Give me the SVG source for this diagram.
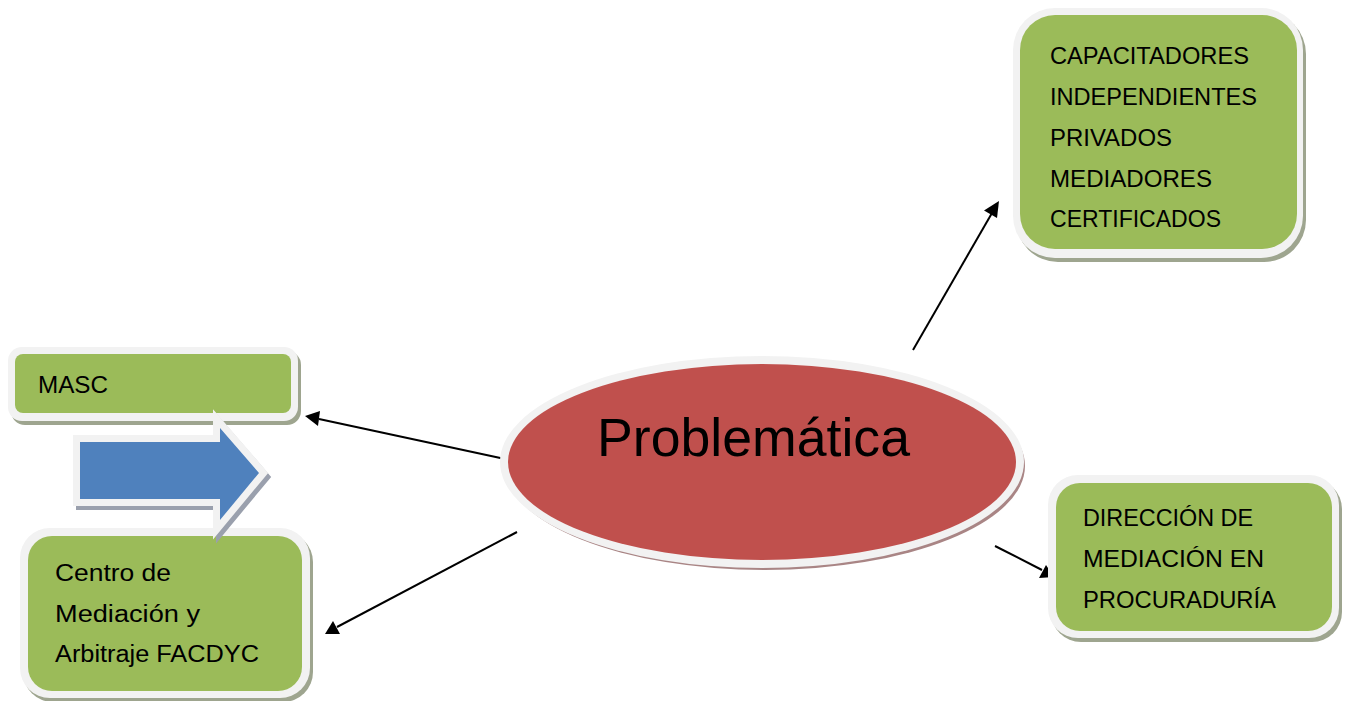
<svg xmlns="http://www.w3.org/2000/svg" width="1346" height="701" viewBox="0 0 1346 701">
<defs>
<style>
.shadow{fill:#9ea58f}
.frame{fill:#F2F2F2}
.green{fill:#9BBB59}
.lbl{font-family:"Liberation Sans",Arial,sans-serif;font-size:23px;fill:#000}
.edge{stroke:#000;stroke-width:2;fill:none}
.head{fill:#000}
</style>
</defs>
<rect width="1346" height="701" fill="#fff"/>

<g id="connectors">
<line class="edge" x1="913" y1="350" x2="992" y2="213"/>
<path class="head" d="M999,201 L997,218 L984,210.5 z"/>
<line class="edge" x1="505" y1="459" x2="319" y2="419"/>
<path class="head" d="M305,416 L320,411 L318,426 z"/>
<line class="edge" x1="517" y1="532" x2="337" y2="627"/>
<path class="head" d="M325,634 L333,621 L340,634 z"/>
<line class="edge" x1="995" y1="546" x2="1042" y2="570"/>
<path class="head" d="M1054,577 L1039,578 L1046,565 z"/>
</g>

<g id="node-capacitadores">
<rect class="shadow" x="1016" y="12" width="290" height="250" rx="42"/>
<rect class="frame" x="1013" y="8" width="290" height="250" rx="42"/>
<rect class="green" x="1020" y="15" width="277" height="234" rx="35"/>
<text class="lbl" x="1050" y="64" textLength="199" lengthAdjust="spacingAndGlyphs">CAPACITADORES</text>
<text class="lbl" x="1050" y="105" textLength="207" lengthAdjust="spacingAndGlyphs">INDEPENDIENTES</text>
<text class="lbl" x="1050" y="146" textLength="122" lengthAdjust="spacingAndGlyphs">PRIVADOS</text>
<text class="lbl" x="1050" y="187" textLength="162" lengthAdjust="spacingAndGlyphs">MEDIADORES</text>
<text class="lbl" x="1050" y="227" textLength="171" lengthAdjust="spacingAndGlyphs">CERTIFICADOS</text>
</g>

<g id="node-masc">
<rect class="shadow" x="11" y="351" width="290" height="74" rx="14"/>
<rect class="frame" x="8" y="347" width="290" height="74" rx="14"/>
<rect class="green" x="15" y="354" width="276" height="59" rx="8"/>
<text class="lbl" x="38" y="393" textLength="70" lengthAdjust="spacingAndGlyphs">MASC</text>
</g>

<g id="node-centro">
<rect class="shadow" x="23" y="532" width="290" height="170" rx="30"/>
<rect class="frame" x="20" y="528" width="290" height="170" rx="30"/>
<rect class="green" x="28" y="536" width="274" height="155" rx="24"/>
<text class="lbl" x="55" y="581" textLength="116" lengthAdjust="spacingAndGlyphs">Centro de</text>
<text class="lbl" x="55" y="622" textLength="145" lengthAdjust="spacingAndGlyphs">Mediación y</text>
<text class="lbl" x="55" y="662" textLength="204" lengthAdjust="spacingAndGlyphs">Arbitraje FACDYC</text>
</g>

<g id="node-arrow">
<polygon points="83,446 223,446 223,432 262,477 223,524 223,503 83,503" fill="#9aa0ad" stroke="#9aa0ad" stroke-width="14" stroke-linejoin="miter" stroke-miterlimit="10"/>
<polygon points="80,442 220,442 220,428 259,473 220,520 220,499 80,499" fill="#4F81BD" stroke="#F2F2F2" stroke-width="14" stroke-linejoin="miter" stroke-miterlimit="10"/>
<polygon points="80,442 220,442 220,428 259,473 220,520 220,499 80,499" fill="#4F81BD"/>
</g>

<g id="node-problematica">
<ellipse cx="765" cy="466" rx="260" ry="104" fill="#a98585"/>
<ellipse cx="762" cy="462" rx="262" ry="106" fill="#F2F2F2"/>
<ellipse cx="762" cy="462" rx="254" ry="98" fill="#C0504D"/>
<text x="597" y="456" font-family="'Liberation Sans',Arial,sans-serif" font-size="54" textLength="313" lengthAdjust="spacingAndGlyphs" fill="#000">Problemática</text>
</g>

<g id="node-direccion">
<rect class="shadow" x="1051" y="479" width="291" height="163" rx="30"/>
<rect class="frame" x="1048" y="475" width="291" height="163" rx="30"/>
<rect class="green" x="1056" y="483" width="276" height="148" rx="24"/>
<text class="lbl" x="1083" y="526" textLength="170" lengthAdjust="spacingAndGlyphs">DIRECCIÓN DE</text>
<text class="lbl" x="1083" y="567" textLength="181" lengthAdjust="spacingAndGlyphs">MEDIACIÓN EN</text>
<text class="lbl" x="1083" y="608" textLength="193" lengthAdjust="spacingAndGlyphs">PROCURADURÍA</text>
</g>
</svg>
